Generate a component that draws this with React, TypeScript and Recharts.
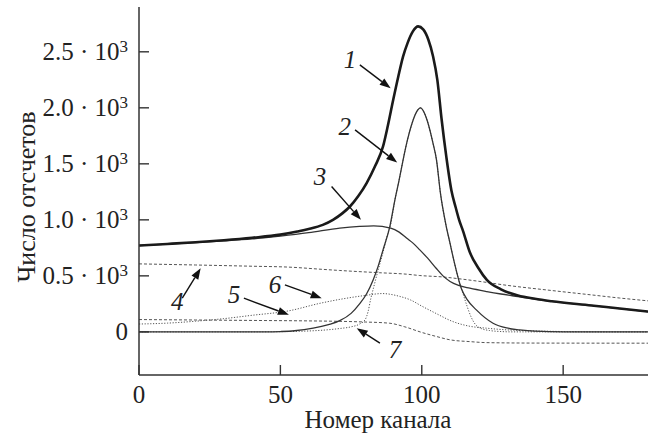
import React from "react";
import {
  LineChart,
  Line,
  XAxis,
  YAxis,
  ReferenceLine,
  ReferenceDot,
} from "recharts";

// точки кривых [канал, отсчеты]
const curve1 = [
  [0, 771], [10, 785], [20, 800], [30, 818], [40, 840], [50, 868], [56, 896],
  [60, 918], [65, 955], [68.6, 1000], [72, 1060], [74.6, 1119], [77.5, 1210],
  [80.5, 1328], [83.5, 1480], [86.3, 1655], [88, 1840], [89.9, 2072],
  [91.7, 2280], [93.4, 2459], [95, 2580], [96.8, 2680], [98.7, 2727],
  [100.5, 2700], [102.3, 2610], [104, 2459], [105.5, 2250], [107, 1900],
  [108.7, 1560], [110.5, 1260], [112, 1110], [113.2, 1000], [114.6, 900],
  [117, 710], [120, 570], [123, 464], [128, 380], [134, 325], [140, 295],
  [146, 273], [160, 236], [170, 208], [180, 181],
];
const curve2 = [
  [0, 0], [45, 0], [50, 3], [55, 10], [61.6, 33], [67, 65], [71, 100],
  [75, 165], [78, 250], [80.5, 340], [82.8, 464], [84.5, 580], [86.3, 732],
  [88.7, 940], [90.5, 1179], [92, 1357], [93.4, 1536], [95, 1720],
  [96.8, 1880], [98.3, 1970], [99.5, 2000], [101, 1950], [102, 1880],
  [104, 1680], [105.2, 1536], [106.6, 1238], [108.5, 960], [110, 790],
  [111.3, 643], [114.1, 380], [116, 290], [119.3, 196], [125.2, 77],
  [130, 35], [134.6, 18], [140, 6], [150, 0], [180, 0],
];
const curve3 = [
  [0, 771], [10, 783], [20, 797], [30, 812], [40, 830], [50, 855], [60, 885],
  [71, 926], [78, 941], [83, 946], [89, 926], [92, 890], [94.6, 837],
  [97, 790], [99.3, 732], [102, 660], [105, 570], [107.5, 500], [110, 450],
  [113, 415], [117, 390], [123, 360], [128, 338], [134, 315], [140, 292],
  [146, 273], [160, 236], [170, 208], [180, 181],
];
const curve4 = [
  [0, 607], [20, 597], [40, 586], [53, 578], [65, 558], [71, 548], [85, 528],
  [94.6, 515], [99.3, 503], [107.5, 490], [114.5, 470], [122, 445],
  [128.8, 420], [146, 369], [160, 330], [170, 302], [180, 277],
];
const curve5 = [
  [0, 110], [20, 106], [40, 102], [60, 98], [71, 94], [80, 88], [88.7, 77],
  [94, 45], [100, -5], [105, -40], [110, -71], [117, -87], [123, -96],
  [140, -100], [180, -101],
];
const curve6 = [
  [0, 70], [10, 78], [20, 95], [30, 118], [40, 148], [53, 188], [64, 255],
  [71, 290], [80, 325], [86, 342], [92, 318], [96, 285], [100, 230],
  [105, 165], [111, 92], [117, 50], [122.9, 33], [130, 18], [138, 10],
  [150, 3], [165, 0], [180, 0],
];
const curve7 = [
  [0, 0], [40, 0], [50, 2], [60, 8], [65, 15], [71, 30], [75, 45], [78, 70],
  [80, 110], [81, 180], [82, 300], [83, 400], [84.6, 554], [86.3, 710],
  [88, 880], [89, 960], [90.5, 1179], [92, 1357], [93.4, 1536], [95, 1720],
  [96.8, 1880], [98.3, 1970], [99.5, 2000], [101, 1950], [102, 1880],
  [104, 1680], [105.2, 1536], [106.6, 1238], [108.5, 960], [110, 790],
  [111.3, 643], [113, 470], [114.6, 340], [116, 230], [117.5, 130],
  [119, 65], [121, 30], [124, 12], [128, 3], [132, 0], [180, 0],
];

const xTicks = [0, 50, 100, 150];
const yTicks = [0, 500, 1000, 1500, 2000, 2500];

// подписи кривых и стрелки (в координатах данных)
const labels = [
  { n: "1", x: 74.6, y: 2428, from: [78.1, 2383], to: [89.0, 2175] },
  { n: "2", x: 72.8, y: 1833, from: [76.4, 1803], to: [91.3, 1511] },
  { n: "3", x: 64.0, y: 1386, from: [68.1, 1297], to: [78.5, 1000] },
  { n: "4", x: 13.5, y: 270, from: [15.3, 301], to: [21.8, 568] },
  { n: "5", x: 33.6, y: 330, from: [37.1, 301], to: [53.0, 152] },
  { n: "6", x: 48.1, y: 420, from: [51.6, 420], to: [64.6, 301] },
  { n: "7", x: 90.5, y: -161, from: [85.2, -101], to: [77.0, 33] },
];

const toPts = (arr: number[][]) => arr.map(([x, y]) => ({ x, y }));

const FONT = "'Liberation Serif', 'Times New Roman', serif";

const YTick = (props: any) => {
  const { x, y, payload } = props;
  const v = payload.value;
  return (
    <g>
      <line x1={x} y1={y} x2={x + 10} y2={y} stroke="#333" strokeWidth={1.4} />
      <text
        x={x - 11}
        y={y + 8.5}
        textAnchor="end"
        fontFamily={FONT}
        fontSize={25}
        fill="#222"
      >
        {v === 0 ? (
          "0"
        ) : (
          <>
            {(v / 1000).toFixed(1)} · 10
            <tspan dy={-8} fontSize={17}>
              3
            </tspan>
          </>
        )}
      </text>
    </g>
  );
};

const XTick = (props: any) => {
  const { x, y, payload } = props;
  return (
    <g>
      <line x1={x} y1={y} x2={x} y2={y - 10} stroke="#333" strokeWidth={1.4} />
      <text
        x={x}
        y={y + 28}
        textAnchor="middle"
        fontFamily={FONT}
        fontSize={25}
        fill="#222"
      >
        {payload.value}
      </text>
    </g>
  );
};

const Arrow = (p: any) => {
  const { x1, y1, x2, y2 } = p;
  const a = Math.atan2(y2 - y1, x2 - x1);
  const L = 11;
  const W = 4;
  const bx = x2 - L * Math.cos(a);
  const by = y2 - L * Math.sin(a);
  const ox = -Math.sin(a) * W;
  const oy = Math.cos(a) * W;
  return (
    <g>
      <line x1={x1} y1={y1} x2={bx} y2={by} stroke="#111" strokeWidth={1.4} />
      <polygon
        points={`${x2},${y2} ${bx + ox},${by + oy} ${bx - ox},${by - oy}`}
        fill="#111"
      />
    </g>
  );
};

const NumLabel = (text: string) => (p: any) => (
  <text
    x={p.cx}
    y={p.cy}
    textAnchor="middle"
    dominantBaseline="central"
    fontFamily={FONT}
    fontStyle="italic"
    fontSize={25}
    fill="#222"
  >
    {text}
  </text>
);

const XTitle = () => (
  <text
    x={378}
    y={428}
    textAnchor="middle"
    fontFamily={FONT}
    fontSize={25}
    fill="#222"
  >
    Номер канала
  </text>
);

const YTitle = () => (
  <text
    x={35}
    y={197}
    transform="rotate(-90, 35, 197)"
    textAnchor="middle"
    fontFamily={FONT}
    fontSize={26}
    fill="#222"
  >
    Число отсчетов
  </text>
);

export default function App() {
  return (
    <div style={{ position: "absolute", left: 0, top: 0, background: "#fff" }}>
      <LineChart
        width={655}
        height={434}
        margin={{ top: 7, right: 7, bottom: 0, left: 0 }}
      >
        <XAxis
          dataKey="x"
          type="number"
          domain={[0, 180]}
          ticks={xTicks}
          allowDataOverflow
          height={59}
          tickSize={0}
          tickMargin={0}
          tick={<XTick />}
          axisLine={{ stroke: "#333", strokeWidth: 1.5 }}
          label={<XTitle />}
        />
        <YAxis
          type="number"
          domain={[-385, 2900]}
          ticks={yTicks}
          allowDataOverflow
          width={139}
          tickSize={0}
          tickMargin={0}
          tick={<YTick />}
          axisLine={{ stroke: "#333", strokeWidth: 1.5 }}
          label={<YTitle />}
        />
        <Line
          data={toPts(curve4)}
          dataKey="y"
          type="monotone"
          stroke="#555"
          strokeWidth={1}
          strokeDasharray="3 2"
          dot={false}
          isAnimationActive={false}
        />
        <Line
          data={toPts(curve5)}
          dataKey="y"
          type="monotone"
          stroke="#555"
          strokeWidth={1}
          strokeDasharray="3 2"
          dot={false}
          isAnimationActive={false}
        />
        <Line
          data={toPts(curve6)}
          dataKey="y"
          type="monotone"
          stroke="#555"
          strokeWidth={1}
          strokeDasharray="1.2 1.6"
          dot={false}
          isAnimationActive={false}
        />
        <Line
          data={toPts(curve7)}
          dataKey="y"
          type="monotone"
          stroke="#555"
          strokeWidth={1}
          strokeDasharray="1.2 1.6"
          dot={false}
          isAnimationActive={false}
        />
        <Line
          data={toPts(curve3)}
          dataKey="y"
          type="monotone"
          stroke="#333"
          strokeWidth={1.3}
          dot={false}
          isAnimationActive={false}
        />
        <Line
          data={toPts(curve2)}
          dataKey="y"
          type="monotone"
          stroke="#333"
          strokeWidth={1.3}
          dot={false}
          isAnimationActive={false}
        />
        <Line
          data={toPts(curve1)}
          dataKey="y"
          type="monotone"
          stroke="#1a1a1a"
          strokeWidth={2.6}
          dot={false}
          isAnimationActive={false}
        />
        {labels.map((l) => (
          <ReferenceLine
            key={"a" + l.n}
            segment={[
              { x: l.from[0], y: l.from[1] },
              { x: l.to[0], y: l.to[1] },
            ]}
            shape={Arrow}
          />
        ))}
        {labels.map((l) => (
          <ReferenceDot
            key={"l" + l.n}
            x={l.x}
            y={l.y}
            r={0}
            shape={NumLabel(l.n)}
          />
        ))}
      </LineChart>
    </div>
  );
}
